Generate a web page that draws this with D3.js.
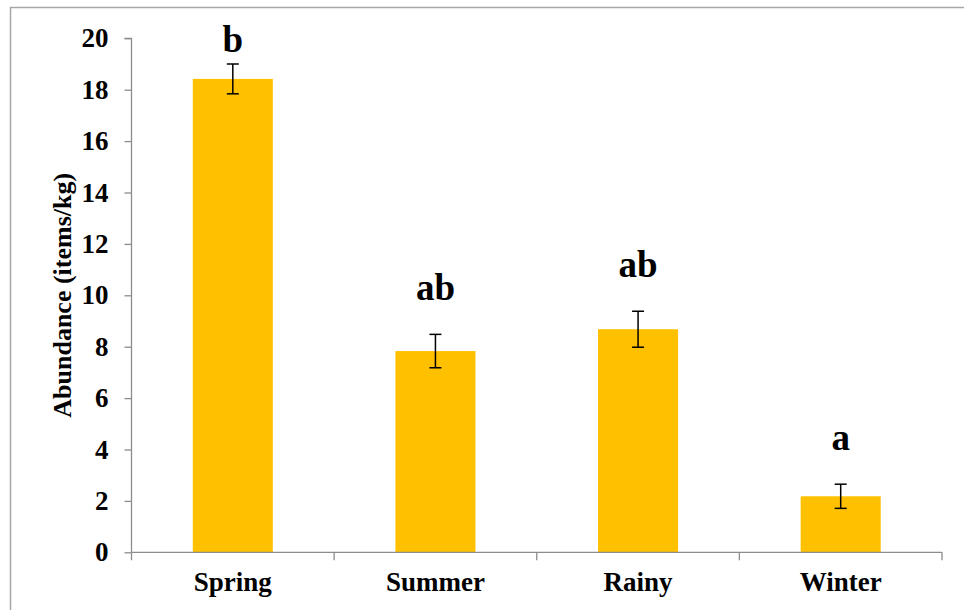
<!DOCTYPE html>
<html>
<head>
<meta charset="utf-8">
<script src="https://cdn.jsdelivr.net/npm/d3@7"></script>
<style>
  html, body { margin: 0; padding: 0; background: #fff; }
  svg { display: block; }
  text { font-family: "Liberation Serif", "Times New Roman", serif; font-weight: bold; fill: #000; }
</style>
</head>
<body>
<svg id="chart" width="964" height="610"></svg>
<script>
// Seasonal abundance (mean ± SE) with significance groupings
const seasons = ["Spring", "Summer", "Rainy", "Winter"];
const abundance = [18.42, 7.83, 8.68, 2.18];
const stdErr = [0.58, 0.65, 0.70, 0.47];
const groupLetters = ["b", "ab", "ab", "a"];
const yTicks = [0, 2, 4, 6, 8, 10, 12, 14, 16, 18, 20];

const svg = d3.select("#chart");
const serif = '"Liberation Serif", "Times New Roman", serif';

// outer chart-area border
svg.append("rect")
  .attr("x", 10.5).attr("y", 7.5)
  .attr("width", 1000).attr("height", 1000)
  .attr("fill", "none")
  .attr("stroke", "#a6a6a6")
  .attr("stroke-width", 1.5);

const plot = { left: 131.5, right: 942, top: 38.3, bottom: 552.3 };

const x = d3.scaleBand()
  .domain(seasons)
  .range([plot.left, plot.right])
  .paddingInner(0.605)
  .paddingOuter(0.3025);

const y = d3.scaleLinear()
  .domain([0, 20])
  .range([plot.bottom, plot.top]);

const axisColor = "#8c8c8c";

// bars
svg.append("g").selectAll("rect")
  .data(seasons)
  .join("rect")
  .attr("x", d => x(d))
  .attr("width", x.bandwidth())
  .attr("y", (d, i) => y(abundance[i]))
  .attr("height", (d, i) => y(0) - y(abundance[i]))
  .attr("fill", "#FFC000");

// y axis
const yAxis = svg.append("g")
  .attr("transform", `translate(${plot.left},0)`)
  .call(d3.axisLeft(y).tickValues(yTicks).tickSize(7).tickPadding(16))
  .attr("font-family", serif);
yAxis.select(".domain").attr("stroke", axisColor).attr("stroke-width", 1.3)
  .attr("d", `M-7,${plot.top}H0V${plot.bottom}`);
yAxis.selectAll(".tick line").attr("stroke", axisColor).attr("stroke-width", 1.3);
yAxis.selectAll(".tick text")
  .style("font-family", serif)
  .attr("font-weight", "bold")
  .attr("font-size", 27)
  .attr("fill", "#000");

// x axis: ticks sit on the category boundaries
const boundaries = [plot.left, ...seasons.slice(1).map(s => x(s) - x.step() * x.paddingInner() / 2), plot.right];
const xAxisG = svg.append("g");
xAxisG.append("line")
  .attr("x1", plot.left).attr("x2", plot.right)
  .attr("y1", plot.bottom).attr("y2", plot.bottom)
  .attr("stroke", axisColor).attr("stroke-width", 1.3);
xAxisG.selectAll("line.tick")
  .data(boundaries)
  .join("line")
  .attr("class", "tick")
  .attr("x1", d => d).attr("x2", d => d)
  .attr("y1", plot.bottom).attr("y2", plot.bottom + 8)
  .attr("stroke", axisColor).attr("stroke-width", 1.3);
xAxisG.selectAll("text")
  .data(seasons)
  .join("text")
  .attr("x", d => x(d) + x.bandwidth() / 2)
  .attr("y", 591)
  .attr("text-anchor", "middle")
  .style("font-family", serif)
  .attr("font-size", 27)
  .text(d => d);

// error bars
const capHalf = 6;
const err = svg.append("g").attr("stroke", "#000").attr("stroke-width", 1.5);
seasons.forEach((s, i) => {
  const cx = x(s) + x.bandwidth() / 2;
  const hi = y(abundance[i] + stdErr[i]);
  const lo = y(abundance[i] - stdErr[i]);
  err.append("line").attr("x1", cx).attr("x2", cx).attr("y1", hi).attr("y2", lo);
  err.append("line").attr("x1", cx - capHalf).attr("x2", cx + capHalf).attr("y1", hi).attr("y2", hi);
  err.append("line").attr("x1", cx - capHalf).attr("x2", cx + capHalf).attr("y1", lo).attr("y2", lo);
});

// significance letters above each error bar, kept inside the plot top
svg.append("g").selectAll("text")
  .data(seasons)
  .join("text")
  .attr("x", d => x(d) + x.bandwidth() / 2)
  .attr("y", (d, i) => Math.max(y(abundance[i] + stdErr[i]) - 34, plot.top + 14))
  .attr("text-anchor", "middle")
  .style("font-family", serif)
  .attr("font-size", 37)
  .text((d, i) => groupLetters[i]);

// y axis title
svg.append("text")
  .attr("transform", `translate(71,${(plot.top + plot.bottom) / 2}) rotate(-90)`)
  .attr("text-anchor", "middle")
  .style("font-family", serif)
  .attr("font-size", 26)
  .text("Abundance (items/kg)");
</script>
</body>
</html>
